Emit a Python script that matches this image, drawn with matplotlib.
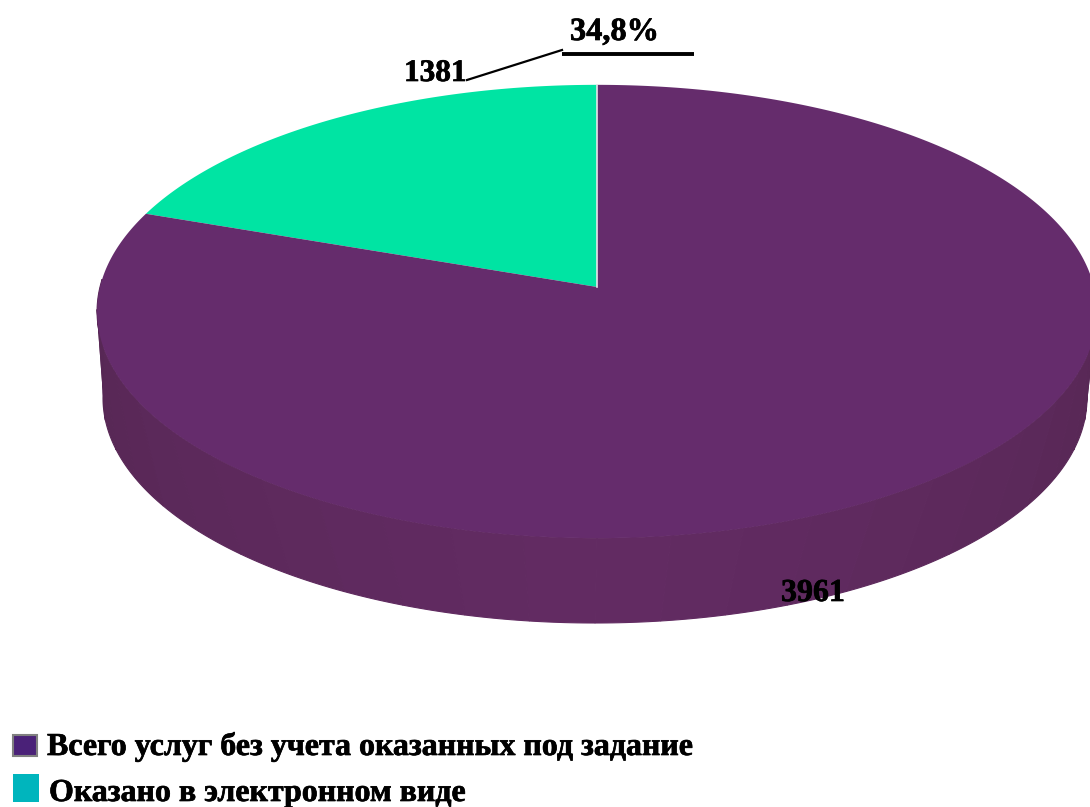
import matplotlib as mpl
mpl.use('Agg')
import matplotlib.pyplot as plt
import matplotlib.patheffects as pe
from matplotlib.patches import Rectangle
import numpy as np

# values printed on the chart
values = ['1381', '3961']
percent = '34,8%'
legend_labels = ['Всего услуг без учета оказанных под задание', 'Оказано в электронном виде']
# slice sizes as drawn in the picture, in % (the drawing does not follow the printed values)
drawn_shares = [19.5, 80.5]

GREEN = '#00e4a3'
PURPLE = '#652c6c'
LEG_COLORS = ['#4a2178', '#00b5bd']
FONT = 'Liberation Serif'

W, H = 1090, 807
APEX = (597, 287)
RX, K, A = 497, 0.108, 224   # perspective of the top face
BOT = (595, 398, 492, 225)   # bottom rim ellipse


def top_xy(t):
    # t in degrees, clockwise from the top of the disc
    u, v = np.sin(np.radians(t)), np.cos(np.radians(t))
    return APEX[0] + RX * u / (1 + K * v), APEX[1] - A * v / (1 + K * v)


def bot_xy(t):
    u, v = np.sin(np.radians(t)), np.cos(np.radians(t))
    return BOT[0] + BOT[2] * u, BOT[1] - BOT[3] * v


fig = plt.figure(figsize=(W / 100, H / 100), dpi=100)
ax = fig.add_axes([0, 0, 1, 1])
ax.set_xlim(0, W); ax.set_ylim(H, 0); ax.axis('off')

# side wall, lower half of the disc, small strips for the shading
edges = np.linspace(88, 272, 25)
for t0, t1 in zip(edges[:-1], edges[1:]):
    ts = np.linspace(t0, t1, 12)
    x1, y1 = top_xy(ts); x2, y2 = bot_xy(ts[::-1])
    f = abs((t0 + t1) / 2 - 180) / 92
    col = np.array([0x63, 0x2b, 0x63]) * (1 - f) + np.array([0x56, 0x27, 0x54]) * f
    c = tuple(col / 255)
    ax.fill(np.r_[x1, x2], np.r_[y1, y2], fc=c, ec=c, lw=0.8, zorder=1)

# top face
green_deg = 360 * drawn_shares[0] / sum(drawn_shares)
ts = np.linspace(-green_deg, 0, 80)
x, y = top_xy(ts)
ax.fill(np.r_[APEX[0], x], np.r_[APEX[1], y], color=GREEN, lw=0, zorder=2)
ts = np.linspace(0, 360 - green_deg, 400)
x, y = top_xy(ts)
ax.fill(np.r_[APEX[0], x], np.r_[APEX[1], y], color=PURPLE, lw=0, zorder=2)
x, y = top_xy(0.0)
ax.plot([APEX[0], x], [APEX[1], y], color='#e8e4ea', lw=1.2, zorder=3)

# leader line
ax.plot([467, 562], [80, 50], color='k', lw=1.6, zorder=4)
ax.plot([562, 694], [54, 54], color='k', lw=2.8, zorder=4, solid_capstyle='butt')

stroke = [pe.withStroke(linewidth=0.5, foreground='k')]
txt = dict(family=FONT, fontweight='bold', color='k', zorder=5, path_effects=stroke)
ax.text(570, 40, percent, fontsize=23.3, ha='left', va='baseline', **txt)
ax.text(404, 81, values[0], fontsize=22.5, ha='left', va='baseline', **txt)
ax.text(781, 601, values[1], fontsize=23, ha='left', va='baseline', **txt)

# legend
ax.add_patch(Rectangle((13, 735), 24, 21, fc=LEG_COLORS[0], ec='#808080', lw=1.5, zorder=5))
ax.add_patch(Rectangle((13, 774), 26, 28, fc=LEG_COLORS[1], ec='none', zorder=5))
ax.text(47, 755, legend_labels[0], fontsize=23, ha='left', va='baseline', **txt)
ax.text(49, 801, legend_labels[1], fontsize=23, ha='left', va='baseline', **txt)

fig.savefig('out.png', dpi=100)
